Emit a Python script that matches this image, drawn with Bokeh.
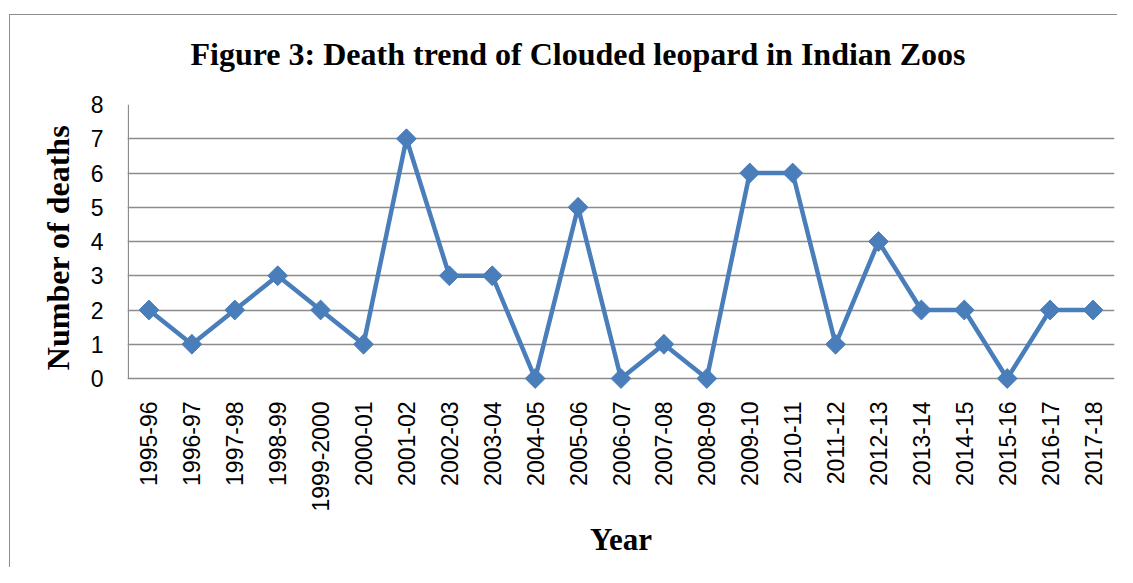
from math import pi
from bokeh.plotting import figure
from bokeh.models import FactorRange, Range1d, Title, FixedTicker, ColumnDataSource
from bokeh.embed import file_html
from bokeh.resources import INLINE

title_text = "Figure 3: Death trend of Clouded leopard in Indian Zoos"
years = ["1995-96", "1996-97", "1997-98", "1998-99", "1999-2000", "2000-01",
         "2001-02", "2002-03", "2003-04", "2004-05", "2005-06", "2006-07",
         "2007-08", "2008-09", "2009-10", "2010-11", "2011-12", "2012-13",
         "2013-14", "2014-15", "2015-16", "2016-17", "2017-18"]
deaths = [2, 1, 2, 3, 2, 1, 7, 3, 3, 0, 5, 0, 1, 0, 6, 6, 1, 4, 2, 2, 0, 2, 2]
y_ticks = [0, 1, 2, 3, 4, 5, 6, 7, 8]
y_min, y_max = 0, 8

LINE = "#4A7EBB"
GRID = "#8C8C8C"

src = ColumnDataSource(data=dict(year=years, deaths=deaths))

p = figure(width=1117, height=567,
           x_range=FactorRange(*years), y_range=Range1d(-0.35, y_max),
           output_backend="svg", toolbar_location=None,
           min_border_left=127, min_border_right=3,
           min_border_top=104, min_border_bottom=177)

# thin chart border (left and top) painted behind the transparent canvas border
p.styles = {
    "background-image": "linear-gradient(#8C8C8C, #8C8C8C), linear-gradient(#8C8C8C, #8C8C8C)",
    "background-size": "100% 1px, 1px 100%",
    "background-position": "9px 14px, 9px 14px",
    "background-repeat": "no-repeat",
}
p.border_fill_color = None
p.background_fill_color = "white"

p.title = Title(text=title_text, text_font="Liberation Serif",
                text_font_size="32px", text_font_style="bold",
                text_color="black", align="left", offset=63, standoff=66)

p.outline_line_color = None
p.xgrid.visible = False
p.ygrid.grid_line_color = GRID
p.ygrid.grid_line_width = 1.3

p.yaxis.ticker = FixedTicker(ticks=y_ticks)
for ax in (p.xaxis, p.yaxis):
    ax.axis_line_color = None
    ax.major_tick_out = 0
    ax.major_tick_in = 0
    ax.minor_tick_out = 0
    ax.minor_tick_in = 0
    ax.major_label_text_font = "Liberation Sans"
    ax.major_label_text_font_size = "23px"
    ax.major_label_text_color = "black"
    ax.axis_label_text_font = "Liberation Serif"
    ax.axis_label_text_font_style = "bold"
    ax.axis_label_text_color = "black"

p.yaxis.major_label_standoff = 24
p.yaxis.axis_label = "Number of deaths"
p.yaxis.axis_label_text_font_size = "32px"
p.yaxis.axis_label_standoff = 12

p.xaxis.major_label_orientation = pi / 2
p.xaxis.major_label_standoff = 11
p.xaxis.axis_label = "Year"
p.xaxis.axis_label_text_font_size = "31px"
p.xaxis.axis_label_standoff = 8

# left axis line from 0 up to the top of the value axis
p.segment(x0=[0.02], y0=[y_min], x1=[0.02], y1=[y_max], line_color=GRID, line_width=1.3)

p.line("year", "deaths", source=src, line_color=LINE, line_width=4.5)
p.scatter("year", "deaths", source=src, marker="square", angle=pi / 4,
          size=14, fill_color=LINE, line_color=LINE)

open("out.html", "w").write(file_html(p, INLINE))
